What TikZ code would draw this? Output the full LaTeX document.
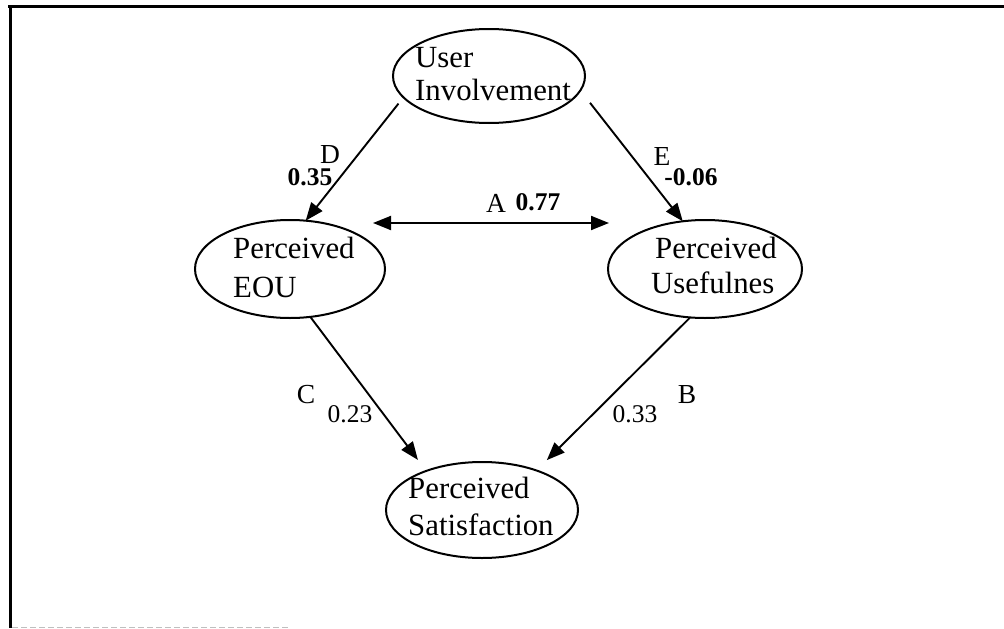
\documentclass[tikz,border=0pt]{standalone}
\usepackage{fontspec}
\setmainfont{Liberation Serif}
\usetikzlibrary{shapes.geometric,arrows.meta}
\begin{document}
\begin{tikzpicture}[x=1pt,y=-1pt,
 oval/.style={ellipse,draw,line width=2pt,minimum width=192pt,minimum height=94pt,inner sep=0pt,outer sep=0pt},
 nodetext/.style={anchor=base west,inner sep=0pt,font=\fontsize{30.8}{36}\selectfont},
 lbl/.style={anchor=base,inner sep=0pt,font=\fontsize{27.5}{32}\selectfont},
 num/.style={anchor=base,inner sep=0pt,font=\fontsize{25.5}{30}\selectfont},
 bnum/.style={anchor=base,inner sep=0pt,font=\fontsize{25.5}{30}\selectfont\bfseries},
 arr/.style={line width=1.9pt,-{Triangle[length=18pt,width=14pt]}},
 darr/.style={line width=1.9pt,{Triangle[length=18pt,width=14pt]}-{Triangle[length=18pt,width=14pt]}},
 frame/.style={line width=3pt}]
\useasboundingbox (0,0) rectangle (1004,629);
% frame
\draw[frame] (8,6) -- (1004,6);
\draw[frame] (10,5) -- (10,628);
\draw[gray!50, line width=1pt, dash pattern=on 6pt off 3pt] (12,627) -- (290,627);
% ellipses
\node[oval] (ui) at (489,76) {};
\node[oval,minimum width=190pt,minimum height=98pt] (eou) at (290,269) {};
\node[oval,minimum width=194pt,minimum height=98pt] (pu) at (705,269) {};
\node[oval,minimum width=192pt,minimum height=96pt] (ps) at (482,510) {};
% texts
\node[nodetext] (ui1) at (415,67) {User};
\node[nodetext] (ui2) at (415,100) {Involvement};
\node[nodetext] (eou1) at (233,258) {Perceived};
\node[nodetext] (eou2) at (233,297) {EOU};
\node[nodetext] (pu1) at (655,258) {Perceived};
\node[nodetext] (pu2) at (651,293) {Usefulnes};
\node[nodetext] (ps1) at (408,498) {Perceived};
\node[nodetext] (ps2) at (408,535) {Satisfaction};
% connectors
\draw[arr,shorten <=8pt] (ui.194) -- (eou.72);
\draw[arr,shorten <=15.7pt] (ui.351) -- (pu.115);
\coordinate (aL) at (373,223);
\coordinate (aR) at (609,223);
\draw[darr] (aL) -- (aR);
\draw[arr,shorten >=13.8pt] (eou.293) -- (ps.145);
\draw[arr,shorten >=14.7pt] (pu.253) -- (ps.36);
% labels
\node[lbl] (lD) at (330,163) {D};
\node[bnum] (vD) at (310,185) {0.35};
\node[lbl] (lE) at (662,165) {E};
\node[bnum] (vE) at (691,185) {-0.06};
\node[lbl] (lA) at (496,212) {A};
\node[bnum] (vA) at (538,210) {0.77};
\node[lbl] (lC) at (306,403) {C};
\node[num] (vC) at (350,422) {0.23};
\node[num] (vB) at (635,422) {0.33};
\node[lbl] (lB) at (687,403) {B};
\end{tikzpicture}
\end{document}
